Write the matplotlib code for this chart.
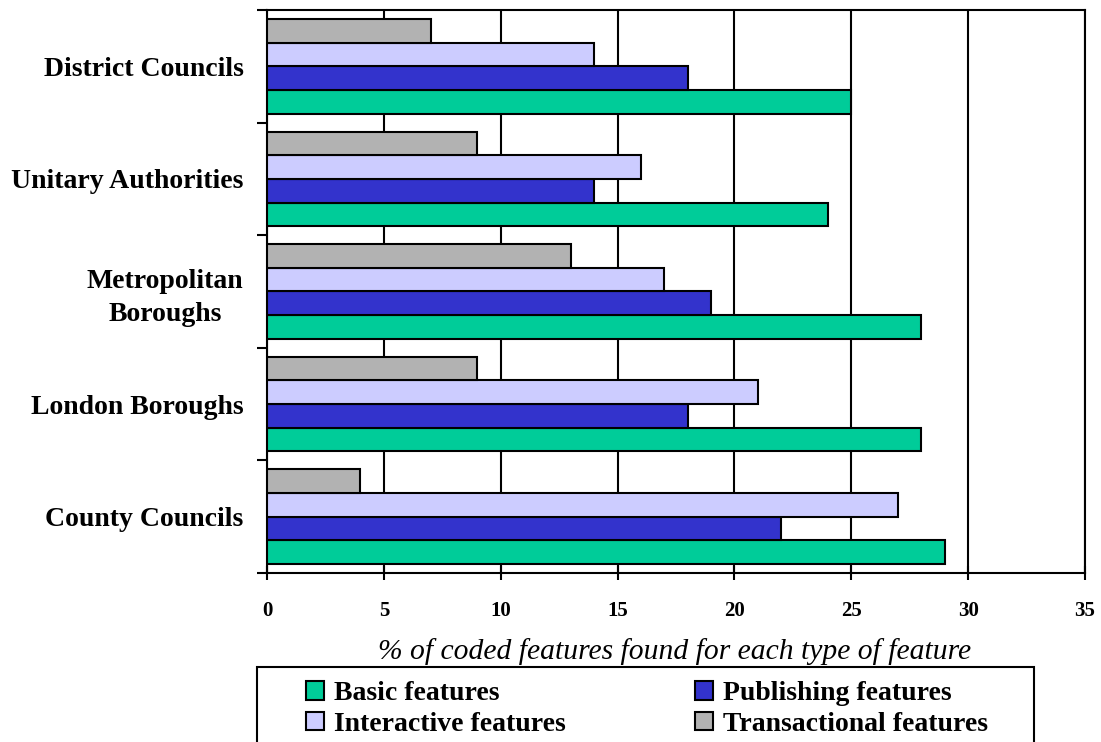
import matplotlib
matplotlib.use("Agg")
import matplotlib.pyplot as plt
from matplotlib.patches import Patch, Rectangle
import numpy as np

# Council types (bottom to top) and feature scores (% of coded features found)
categories = ["County Councils", "London Boroughs", "Metropolitan\nBoroughs",
              "Unitary Authorities", "District Councils"]
basic = [29, 28, 28, 24, 25]
publishing = [22, 18, 19, 14, 18]
interactive = [27, 21, 17, 16, 14]
transactional = [4, 9, 13, 9, 7]

series_names = ["Basic features", "Publishing features",
                "Interactive features", "Transactional features"]
series_values = [basic, publishing, interactive, transactional]
series_colors = ["#00CC99", "#3333CC", "#CCCCFF", "#B2B2B2"]
x_ticks = [0, 5, 10, 15, 20, 25, 30, 35]

plt.rcParams["font.family"] = ["Liberation Serif", "DejaVu Serif"]

W, H = 1101, 742
fig = plt.figure(figsize=(W / 100, H / 100), dpi=100)
ax = fig.add_axes([267 / W, 1 - 573 / H, (1085 - 267) / W, (573 - 10) / H])

y = np.arange(len(categories))
bar_h = 0.21
offsets = [-1.5 * bar_h, -0.5 * bar_h, 0.5 * bar_h, 1.5 * bar_h]
for vals, col, off, name in zip(series_values, series_colors, offsets, series_names):
    ax.barh(y + off, vals, height=bar_h, color=col, edgecolor="black",
            linewidth=1.5, zorder=3, label=name)

ax.set_xlim(0, 35)
ax.set_ylim(-0.5, len(categories) - 0.5)

# vertical gridlines
ax.set_xticks(x_ticks)
ax.set_xticklabels([str(t) for t in x_ticks], fontsize=15, fontweight="bold")
ax.xaxis.grid(True, color="black", linewidth=1.5, zorder=0)
ax.set_axisbelow(True)
ax.tick_params(axis="x", direction="inout", length=9.5, width=1.5, pad=15.5)

# category separators as major ticks, names on minor ticks
ax.set_yticks(np.arange(-0.5, len(categories), 1.0))
ax.set_yticklabels([])
ax.set_yticks(y, minor=True)
ax.set_yticklabels(categories, minor=True, fontsize=20, fontweight="bold",
                   multialignment="center", linespacing=1.4)
ax.tick_params(axis="y", which="major", direction="out", length=7, width=1.5)
ax.tick_params(axis="y", which="minor", length=0, pad=17)

for side in ["left", "right", "top", "bottom"]:
    ax.spines[side].set_linewidth(1.5)
    ax.spines[side].set_color("black")

fig.text((379 + 971) / 2 / W, 1 - 652 / H,
         "% of coded features found for each type of feature",
         ha="center", va="center", fontsize=21.3, style="italic")

# legend box running off the bottom edge
fig.patches.append(Rectangle((257 / W, -0.05), (1034 - 257) / W, 0.05 + 1 - 667 / H,
                             transform=fig.transFigure, facecolor="white",
                             edgecolor="black", linewidth=1.5, zorder=1))

handles = [Patch(facecolor=c, edgecolor="black", linewidth=1.5) for c in series_colors]
# legend fills column-wise; reorder so rows read Basic/Publishing, Interactive/Transactional
order = [0, 2, 1, 3]
leg = fig.legend([handles[i] for i in order], [series_names[i] for i in order],
                 ncol=2, loc="upper left", bbox_to_anchor=(306 / W, 1 - 681 / H),
                 frameon=False, handlelength=0.65, handleheight=0.65,
                 handletextpad=0.36, columnspacing=4.66, labelspacing=0.21,
                 borderpad=0.0, borderaxespad=0.0,
                 prop={"weight": "bold", "size": 20})
leg.set_zorder(2)

fig.savefig("out.png", dpi=100)
